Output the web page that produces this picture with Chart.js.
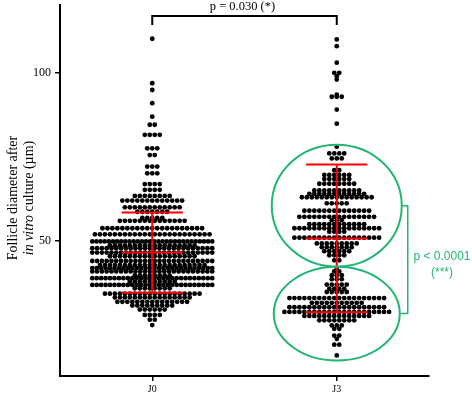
<!DOCTYPE html>
<html>
<head>
<meta charset="utf-8">
<script src="https://cdn.jsdelivr.net/npm/chart.js@4"></script>
<style>
  html, body { margin: 0; padding: 0; background: #fff; }
  canvas { display: block; }
</style>
</head>
<body>
<canvas id="swarm-chart" width="472" height="394"></canvas>
<script>
// Chart data
const categories = ['J0', 'J3'];
const yTicks = [50, 100];

// Swarm rows: [diameter (µm), number of follicles at that level]
const j0Rows = [
    [110, 1], [96.8, 1], [94.8, 1], [90.9, 1], [86.9, 1], [84.5, 2], [81.5, 4],
    [77.5, 3], [75.5, 2], [72.1, 3], [70.1, 3], [66.9, 4], [65.2, 4], [63.4, 8],
    [62, 13], [60, 12], [58.7, 7], [56.9, 5], [56, 14], [53.8, 21], [52, 24],
    [49.9, 30], [48.7, 18], [47.9, 26], [46.6, 26], [45.5, 18], [44.1, 26],
    [42.9, 22], [42, 28], [41, 26], [39.8, 8], [39, 28], [38, 10], [37, 28],
    [36, 8], [34.4, 20], [33.3, 16], [32, 15], [30.9, 9], [29.7, 6], [28.1, 4],
    [26.7, 2], [25.1, 1]
];
const j3Rows = [
    [109.8, 1], [107.8, 1], [102.9, 1], [99.9, 2], [98.9, 1], [97.9, 1], [93.4, 1],
    [92.8, 3], [89, 1], [84.8, 1], [78, 1], [76, 4], [74.5, 3], [71, 2], [69.6, 6],
    [68.4, 6], [67, 8], [65, 10], [64, 12], [63, 15], [61.2, 5], [59, 14], [57.2, 16],
    [56.2, 3], [55, 12], [53.8, 18], [52.8, 4], [51, 18], [49.3, 9], [48.2, 7],
    [47, 6], [45.8, 4], [44.3, 2], [42, 1], [41, 2], [39.9, 3], [38.7, 3], [37.1, 5],
    [35.9, 4], [34.9, 5], [33.1, 20], [31.7, 11], [30.4, 20], [29, 22], [27.8, 14],
    [26.5, 8], [25, 3], [24, 2], [22, 2], [21, 1], [19.3, 2], [16.1, 1]
];

// Mean and SD per group
const means = [46.6, 50.8];
const sds = [11.9, 21.9];

// J3 sub-populations (value range of each circle)
const j3Clusters = [[42.4, 78.6], [14.6, 42.4]];

const pTop = 'p = 0.030 (*)';
const pClusters = ['p < 0.0001', '(***)'];

// Layout constants (x in category units, 1 unit = half the axis)
const DOT_GAP = 0.027;
const MAX_HALF = 0.325;
const BAR_HALF = 0.166;
const GREEN = '#22b573';

// Build swarm points from row counts
function swarm(rows, center) {
    const pts = [];
    rows.forEach(([v, n]) => {
        const gap = n > 1 ? Math.min(DOT_GAP, 2 * MAX_HALF / (n - 1)) : 0;
        for (let k = 0; k < n; k++) {
            pts.push({ x: center + (k - (n - 1) / 2) * gap, y: v });
        }
    });
    return pts;
}

function redLine(points) {
    return {
        data: points,
        showLine: true,
        borderColor: '#ff0000',
        borderWidth: 2,
        pointRadius: 0,
        order: 0
    };
}

const datasets = [];
[j0Rows, j3Rows].forEach((rows, i) => {
    const c = i + 0.5;
    const m = means[i], s = sds[i];
    datasets.push(redLine([{ x: c - BAR_HALF, y: m }, { x: c + BAR_HALF, y: m }]));
    datasets.push(redLine([{ x: c - BAR_HALF, y: m + s }, { x: c + BAR_HALF, y: m + s }]));
    datasets.push(redLine([{ x: c - BAR_HALF, y: m - s }, { x: c + BAR_HALF, y: m - s }]));
    datasets.push(redLine([{ x: c, y: m - s }, { x: c, y: m + s }]));
    datasets.push({
        data: swarm(rows, c),
        backgroundColor: '#000',
        borderWidth: 0,
        pointRadius: 2.4,
        order: 1
    });
});

// Annotations: axis title, brackets, circles, p-values
const annotations = {
    id: 'annotations',
    afterDraw(chart) {
        const ctx = chart.ctx;
        const xs = chart.scales.x, ys = chart.scales.y;
        ctx.save();

        // y-axis title (two lines, "in vitro" in italics)
        const cy = 198;
        ctx.fillStyle = '#000';
        ctx.textBaseline = 'middle';
        ctx.save();
        ctx.translate(13, cy);
        ctx.rotate(-Math.PI / 2);
        ctx.font = '14px "Liberation Serif"';
        ctx.textAlign = 'center';
        ctx.fillText('Follicle diameter after', 0, 0);
        ctx.restore();

        ctx.save();
        ctx.translate(29, cy);
        ctx.rotate(-Math.PI / 2);
        ctx.textAlign = 'left';
        ctx.font = 'italic 14px "Liberation Serif"';
        const a = 'in vitro';
        const wa = ctx.measureText(a).width;
        ctx.font = '14px "Liberation Serif"';
        const b = ' culture (µm)';
        const wb = ctx.measureText(b).width;
        const start = -(wa + wb) / 2;
        ctx.font = 'italic 14px "Liberation Serif"';
        ctx.fillText(a, start, 0);
        ctx.font = '14px "Liberation Serif"';
        ctx.fillText(b, start + wa, 0);
        ctx.restore();

        // top bracket
        const x0 = xs.getPixelForValue(0.5), x1 = xs.getPixelForValue(1.5);
        ctx.strokeStyle = '#000';
        ctx.lineWidth = 2;
        ctx.beginPath();
        ctx.moveTo(x0, 25);
        ctx.lineTo(x0, 16);
        ctx.lineTo(x1, 16);
        ctx.lineTo(x1, 25);
        ctx.stroke();
        ctx.font = '12.5px "Liberation Serif"';
        ctx.textAlign = 'center';
        ctx.fillText(pTop, (x0 + x1) / 2 - 2, 7);

        // J3 cluster circles
        ctx.strokeStyle = GREEN;
        ctx.lineWidth = 2;
        const mids = [];
        const halfW = [65, 63];
        j3Clusters.forEach(([lo, hi], i) => {
            const top = ys.getPixelForValue(hi), bot = ys.getPixelForValue(lo);
            const mid = (top + bot) / 2;
            mids.push(mid);
            ctx.beginPath();
            ctx.ellipse(x1, mid, halfW[i], (bot - top) / 2, 0, 0, Math.PI * 2);
            ctx.stroke();
        });

        // side bracket
        const bx = x1 + 71;
        ctx.lineWidth = 1.5;
        ctx.beginPath();
        ctx.moveTo(x1 + 65, mids[0]);
        ctx.lineTo(bx, mids[0]);
        ctx.lineTo(bx, mids[1]);
        ctx.lineTo(x1 + 64, mids[1]);
        ctx.stroke();

        ctx.fillStyle = GREEN;
        ctx.font = '12px "Liberation Sans"';
        ctx.textAlign = 'center';
        ctx.fillText(pClusters[0], 442, 257);
        ctx.fillText(pClusters[1], 442, 273);

        ctx.restore();
    }
};

new Chart(document.getElementById('swarm-chart'), {
    type: 'scatter',
    data: { datasets: datasets },
    options: {
        responsive: false,
        animation: false,
        layout: { padding: { top: 5, right: 43, left: 0, bottom: 0 } },
        plugins: {
            legend: { display: false },
            tooltip: { enabled: false }
        },
        scales: {
            x: {
                type: 'linear',
                min: 0,
                max: 2,
                afterFit: (scale) => { scale.height = 18; },
                afterBuildTicks: (scale) => {
                    scale.ticks = categories.map((c, i) => ({ value: i + 0.5 }));
                },
                ticks: {
                    callback: (v) => categories[Math.round(v - 0.5)],
                    autoSkip: false,
                    maxRotation: 0,
                    padding: 2,
                    color: '#000',
                    font: { family: 'Liberation Serif', size: 10 }
                },
                grid: {
                    display: true,
                    drawOnChartArea: false,
                    drawTicks: true,
                    tickLength: 5,
                    color: '#000',
                    lineWidth: 1.5
                },
                border: { display: true, color: '#000', width: 2 }
            },
            y: {
                min: 10,
                max: 120,
                afterFit: (scale) => {
                    scale.width = 60;
                    scale.paddingTop = 0;
                    scale.paddingBottom = 0;
                },
                afterBuildTicks: (scale) => {
                    scale.ticks = yTicks.map(v => ({ value: v }));
                },
                ticks: {
                    padding: 4,
                    color: '#000',
                    font: { family: 'Liberation Serif', size: 12 }
                },
                grid: {
                    display: true,
                    drawOnChartArea: false,
                    drawTicks: true,
                    tickLength: 5,
                    color: '#000',
                    lineWidth: 1.5
                },
                border: { display: true, color: '#000', width: 2 }
            }
        }
    },
    plugins: [annotations]
});
</script>
</body>
</html>
